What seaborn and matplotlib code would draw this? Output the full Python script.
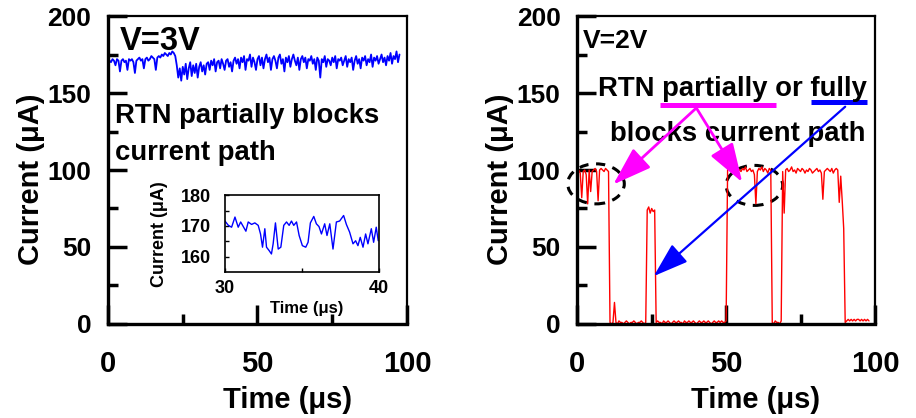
import numpy as np
import pandas as pd
import seaborn as sns
import matplotlib.pyplot as plt
from matplotlib.patches import Ellipse

# muestreo de las trazas (us)
t_start = 0.5
dt = 0.5

# V=3V: corriente (uA), una muestra cada 0.5 us
i_3v = [171, 170, 172, 171, 168, 172, 171, 164, 171, 172, 170, 171, 165, 172, 171, 172, 170, 163, 171, 172,
        173, 171, 172, 166, 172, 173, 171, 172, 174, 173, 172, 165, 173, 174, 173, 175, 174, 176, 175, 174,
        176, 175, 177, 176, 174,
        168, 160, 166, 158, 167, 162, 169, 159, 166, 170, 161, 168, 163, 169, 160, 167, 170, 164, 168, 162, 169,
        170, 165, 171, 168, 172, 164, 170, 171, 166, 172, 169, 165, 171, 172, 167, 170, 164, 171, 173, 169,
        172, 166, 173, 170, 174, 165, 172, 171, 175, 167, 173, 170, 165, 172, 174, 168, 173, 166, 172, 175,
        170, 173, 165, 172, 174, 171, 166, 173, 175, 169, 172, 164, 173, 170, 174, 167, 172, 175, 171, 168,
        173, 165, 172, 174, 170, 173, 166, 172, 171, 174, 169, 172, 165, 173, 171, 160, 172, 170, 174, 167,
        172, 171, 168, 173, 170, 174, 166, 172, 171, 173, 168, 171, 174, 167, 172, 170, 173, 165, 171, 174,
        169, 172, 166, 173, 171, 174, 168, 172, 170, 175, 167, 173, 171, 174, 169, 172, 175, 170, 173, 168,
        174, 171, 176, 169, 174, 172, 177, 170, 175]

# V=2V: corriente (uA), una muestra cada 0.5 us
i_2v = [100, 98, 82, 99, 100, 97, 78, 100, 86, 99, 100, 101, 99, 80, 100, 101, 100, 99, 101, 100, 99,
        1, 0, 1, 14, 1, 0, 2, 1, 1, 0, 1, 2, 1, 0, 1, 1, 2, 1, 0, 1, 1, 2, 1, 0, 1,
        74, 76, 72, 75, 73, 74,
        1, 2, 1, 1, 0, 2, 1, 1, 2, 1, 0, 1, 2, 1, 1, 2, 1, 1, 0, 2, 1, 1, 2, 1,
        1, 2, 1, 0, 1, 2, 1, 1, 2, 1, 1, 2, 1, 0, 1, 2, 1, 1, 2, 1, 2, 1, 1, 2,
        100, 102, 99, 101, 100, 102, 98, 101, 100, 99, 101, 100, 102, 99, 100,
        101, 99, 100, 97, 78, 99, 101, 100, 102, 99, 101, 100, 98, 101, 100,
        1, 0, 2, 1, 1, 0, 2,
        99, 72, 100, 101, 99, 100, 102, 99, 100, 98, 101, 100, 99, 101, 100, 98, 100, 99, 101, 100,
        98, 99, 100, 101, 99, 100, 98, 81, 99, 100, 101, 100, 99, 101, 98, 100, 101, 100, 79, 96,
        80, 62,
        1, 2, 3, 2, 3, 2, 3, 2, 3, 3, 2, 3, 2, 3, 2, 3, 2]

# recuadro: zoom 30-40 us de V=3V
t_inset = [30.00, 30.22, 30.43, 30.65, 30.86, 31.02, 31.19, 31.36, 31.51, 31.73, 31.94, 32.16, 32.31, 32.44,
           32.59, 32.70, 32.87, 33.02, 33.13, 33.28, 33.46, 33.63, 33.82, 34.00, 34.17, 34.32, 34.47, 34.65,
           34.82, 35.03, 35.25, 35.40, 35.55, 35.77, 35.94, 36.11, 36.27, 36.48, 36.63, 36.81, 37.02, 37.24,
           37.45, 37.71, 37.89, 38.10, 38.32, 38.49, 38.64, 38.79, 38.97, 39.14, 39.29, 39.51, 39.66, 39.83,
           39.96]
i_inset = [171.6, 170.2, 169.6, 172.9, 169.6, 171.3, 169.8, 168.3, 171.3, 170.5, 171.0, 170.2, 167.4, 163.1,
           169.1, 163.1, 162.0, 160.9, 164.2, 171.0, 162.5, 163.1, 170.2, 171.3, 170.2, 171.6, 170.2, 171.3,
           166.9, 163.6, 163.1, 164.7, 171.0, 173.1, 170.7, 169.8, 167.4, 170.7, 166.9, 170.7, 162.5, 171.3,
           171.6, 173.4, 170.5, 168.0, 164.2, 165.2, 163.6, 166.3, 163.1, 167.4, 164.2, 169.1, 164.7, 169.6,
           165.2]

x_ticks = [0, 50, 100]
x_minor = [25, 75]
y_ticks = [0, 50, 100, 150, 200]
y_minor = [25, 75, 125, 175]

df3 = pd.DataFrame({'t': t_start + dt * np.arange(len(i_3v)), 'i': i_3v})
df2 = pd.DataFrame({'t': t_start + dt * np.arange(len(i_2v)), 'i': i_2v})
dfi = pd.DataFrame({'t': t_inset, 'i': i_inset})

sns.set_style('ticks')
plt.rcParams['font.family'] = ['Liberation Sans', 'DejaVu Sans']
plt.rcParams['font.weight'] = 'bold'
for k in ['text.color', 'axes.labelcolor', 'xtick.color', 'ytick.color', 'axes.edgecolor']:
    plt.rcParams[k] = 'black'

fig = plt.figure(figsize=(9.16, 4.18), dpi=100)
ax1 = fig.add_axes([0.1179, 0.2249, 0.3264, 0.7368])
ax2 = fig.add_axes([0.6302, 0.2249, 0.325, 0.7368])

for ax in (ax1, ax2):
    ax.set_xlim(0, 100)
    ax.set_ylim(0, 200)
    ax.set_xticks(x_ticks)
    ax.set_xticks(x_minor, minor=True)
    ax.set_yticks(y_ticks)
    ax.set_yticks(y_minor, minor=True)
    ax.tick_params(which='both', direction='in', width=2.5, color='black',
                   bottom=True, left=True, top=False, right=False)
    ax.tick_params(which='major', length=14)
    ax.tick_params(which='minor', length=7)
    ax.tick_params(axis='x', which='major', labelsize=21, pad=19)
    ax.tick_params(axis='y', which='major', labelsize=19, pad=12)
    for s in ['left', 'bottom']:
        ax.spines[s].set_linewidth(2.4)
    for s in ['top', 'right']:
        ax.spines[s].set_linewidth(1.6)
    for s in ax.spines.values():
        s.set_color('black')

sns.lineplot(data=df3, x='t', y='i', ax=ax1, color='#0000FF', lw=1.3)
ax1.text(4.0, 178, 'V=3V', fontsize=23.5, fontweight='bold', va='baseline')
ax1.text(2.3, 130.5, 'RTN partially blocks', fontsize=19.8, fontweight='bold', va='baseline')
ax1.text(2.3, 106.5, 'current path', fontsize=19.8, fontweight='bold', va='baseline')

sns.lineplot(data=df2, x='t', y='i', ax=ax2, color='#FF0000', lw=1.0)
ax2.text(1.9, 179.3, 'V=2V', fontsize=19, fontweight='bold', va='baseline')
ax2.text(6.9, 148.2, 'RTN partially or fully', fontsize=19.8, fontweight='bold', va='baseline')
ax2.text(10.9, 119, 'blocks current path', fontsize=19.8, fontweight='bold', va='baseline')

for ax in (ax1, ax2):
    ax.set_xlabel('Time (μs)', fontsize=21, fontweight='bold')
    ax.set_ylabel('Current (μA)', fontsize=21, fontweight='bold')
    ax.xaxis.set_label_coords(0.6, -0.2)
    ax.yaxis.set_label_coords(-0.212, 0.47)

# subrayados y flechas
ax2.plot([27.7, 66.8], [142.4, 142.4], color='#FF00FF', lw=3.6, solid_capstyle='butt', clip_on=False)
ax2.plot([78.6, 97.3], [144.3, 144.3], color='#0000FF', lw=3.6, solid_capstyle='butt', clip_on=False)
head = '-|>,head_length=0.6,head_width=0.2'
for tip in [(12.1, 90.6), (55.4, 92.1)]:
    ax2.annotate('', xy=tip, xytext=(40.0, 140.3),
                 arrowprops=dict(arrowstyle=head, color='#FF00FF', lw=2, mutation_scale=40,
                                 shrinkA=0, shrinkB=0))
ax2.annotate('', xy=(25.7, 31.1), xytext=(90.0, 141.1),
             arrowprops=dict(arrowstyle=head, color='#0000FF', lw=1.6, mutation_scale=36,
                             shrinkA=0, shrinkB=0))
for c in [(6.3, 91), (59.5, 90)]:
    ax2.add_patch(Ellipse(c, 19, 26, fill=False, ec='black', lw=2.2, ls=(0, (3, 2.5)), clip_on=False))

# recuadro
axi = fig.add_axes([0.2456, 0.349, 0.168, 0.184])
sns.lineplot(data=dfi, x='t', y='i', ax=axi, color='#0000FF', lw=1.0)
axi.set_xlim(30, 40)
axi.set_ylim(155, 180)
axi.set_xticks([30, 40])
axi.set_xticks([35], minor=True)
axi.set_yticks([160, 170, 180])
axi.set_yticks([165, 175], minor=True)
axi.tick_params(which='both', direction='in', length=3, width=1, color='black',
                bottom=True, left=True, top=False, right=False)
axi.tick_params(axis='x', labelsize=13, pad=6)
axi.tick_params(axis='y', labelsize=13, pad=10)
for s in axi.spines.values():
    s.set_color('black')
    s.set_linewidth(1.2)
axi.set_xlabel('Time (μs)', fontsize=12, fontweight='bold')
axi.set_ylabel('Current (μA)', fontsize=13, fontweight='bold')
axi.xaxis.set_label_coords(0.53, -0.37)
axi.yaxis.set_label_coords(-0.37, 0.5)

fig.savefig('out.png', dpi=100)
